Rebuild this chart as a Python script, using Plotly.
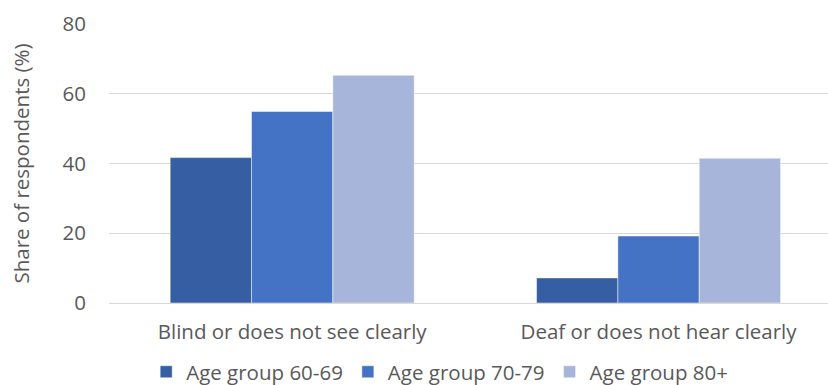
import plotly.graph_objects as go

categories = ["Blind or does not see clearly", "Deaf or does not hear clearly"]
series_names = ["Age group 60-69", "Age group 70-79", "Age group 80+"]
values_60_69 = [41.7, 7.2]
values_70_79 = [54.9, 19.2]
values_80p = [65.3, 41.5]
colors = ["#365EA3", "#4472C4", "#A8B5DA"]
y_ticks = [0, 20, 40, 60, 80]

fig = go.Figure()
for name, vals, col in zip(series_names, [values_60_69, values_70_79, values_80p], colors):
    fig.add_trace(go.Bar(x=categories, y=vals, name=name,
                         marker=dict(color=col, line=dict(color="rgba(255,255,255,0.6)", width=0.8))))

font_fam = "'Open Sans', sans-serif"
fs = 20.5
fig.update_layout(
    width=828, height=385,
    margin=dict(l=109, r=0, t=24, b=82),
    paper_bgcolor="white", plot_bgcolor="white",
    barmode="group", bargap=0.334, bargroupgap=0,
    font=dict(family=font_fam, size=fs, color="#595959"),
    xaxis=dict(range=[-0.5, 1.4625], showgrid=False, showline=False, ticks="",
               automargin=False, ticklabelstandoff=14,
               tickfont=dict(size=fs, color="#595959")),
    yaxis=dict(range=[0, 80], tickvals=y_ticks, showgrid=True, gridcolor="#D9D9D9",
               gridwidth=1.3, zeroline=True, zerolinecolor="#D9D9D9", zerolinewidth=1.3,
               automargin=False, ticks="", ticklabelstandoff=22,
               tickfont=dict(size=fs, color="#595959"),
               title=dict(text="Share of respondents (%)", font=dict(size=fs, color="#595959"),
                          standoff=27)),
    legend=dict(orientation="h", x=0.531, xanchor="center", xref="container",
                y=0.034, yanchor="middle", yref="container",
                font=dict(size=fs, color="#595959"), itemwidth=30,
                traceorder="normal"),
)

fig.write_html("out.html")
